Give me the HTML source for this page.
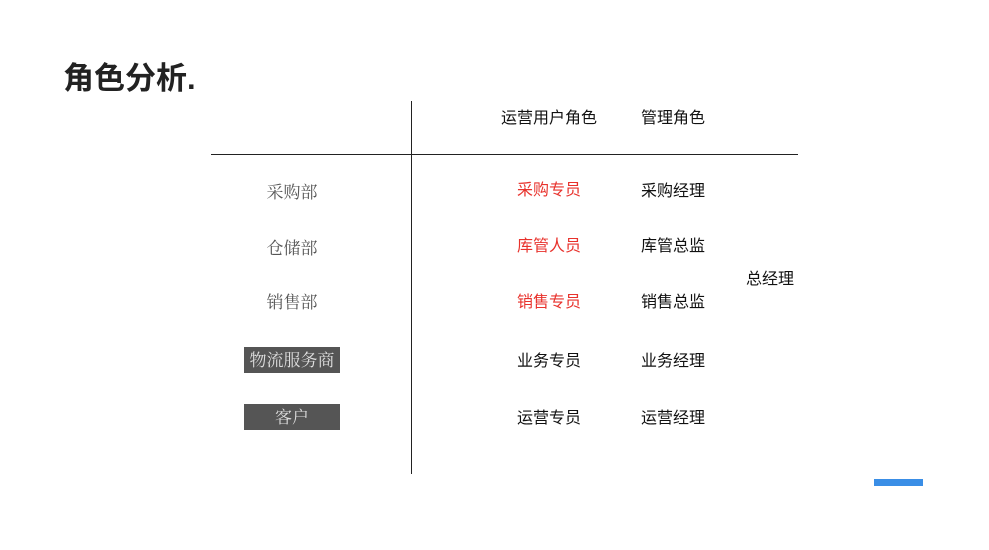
<!DOCTYPE html>
<html><head><meta charset="utf-8"><style>
body{margin:0;width:989px;height:550px;background:#fff;position:relative;overflow:hidden;font-family:"Liberation Sans","Noto Sans CJK SC",sans-serif;}
.t{position:absolute;white-space:nowrap;font-size:16px;color:#111;line-height:20px;}
.s{font-family:"Liberation Serif","Noto Serif CJK SC",serif;color:#555;font-size:17px;width:96px;text-align:center;left:244px;}
.r{color:#e8322c;}
.box{position:absolute;left:244px;width:96px;height:26px;background:#555;color:#ddd;font-family:"Liberation Serif","Noto Serif CJK SC",serif;font-size:17px;text-align:center;line-height:26px;}
</style></head><body>
<div class="t" style="left:63px;top:59px;font-size:31px;line-height:40px;font-weight:bold;color:#222;">角色分析.</div>
<div style="position:absolute;left:411px;top:101px;width:1px;height:373px;background:#222"></div>
<div style="position:absolute;left:211px;top:154px;width:587px;height:1px;background:#222"></div>
<div class="t" style="left:501px;top:109px">运营用户角色</div>
<div class="t" style="left:641px;top:109px">管理角色</div>
<div class="t s" style="top:183px">采购部</div>
<div class="t s" style="top:239px">仓储部</div>
<div class="t s" style="top:293px">销售部</div>
<div class="box" style="top:347px;line-height:28px">物流服务商</div>
<div class="box" style="top:404px;line-height:28px">客户</div>
<div class="t r" style="left:517px;top:181px">采购专员</div>
<div class="t r" style="left:517px;top:237px">库管人员</div>
<div class="t r" style="left:517px;top:293px">销售专员</div>
<div class="t" style="left:517px;top:352px">业务专员</div>
<div class="t" style="left:517px;top:409px">运营专员</div>
<div class="t" style="left:641px;top:182px">采购经理</div>
<div class="t" style="left:641px;top:237px">库管总监</div>
<div class="t" style="left:641px;top:293px">销售总监</div>
<div class="t" style="left:641px;top:352px">业务经理</div>
<div class="t" style="left:641px;top:409px">运营经理</div>
<div class="t" style="left:746px;top:270px">总经理</div>
<div style="position:absolute;left:874px;top:479px;width:49px;height:7px;background:#3a8ee6"></div>
</body></html>
